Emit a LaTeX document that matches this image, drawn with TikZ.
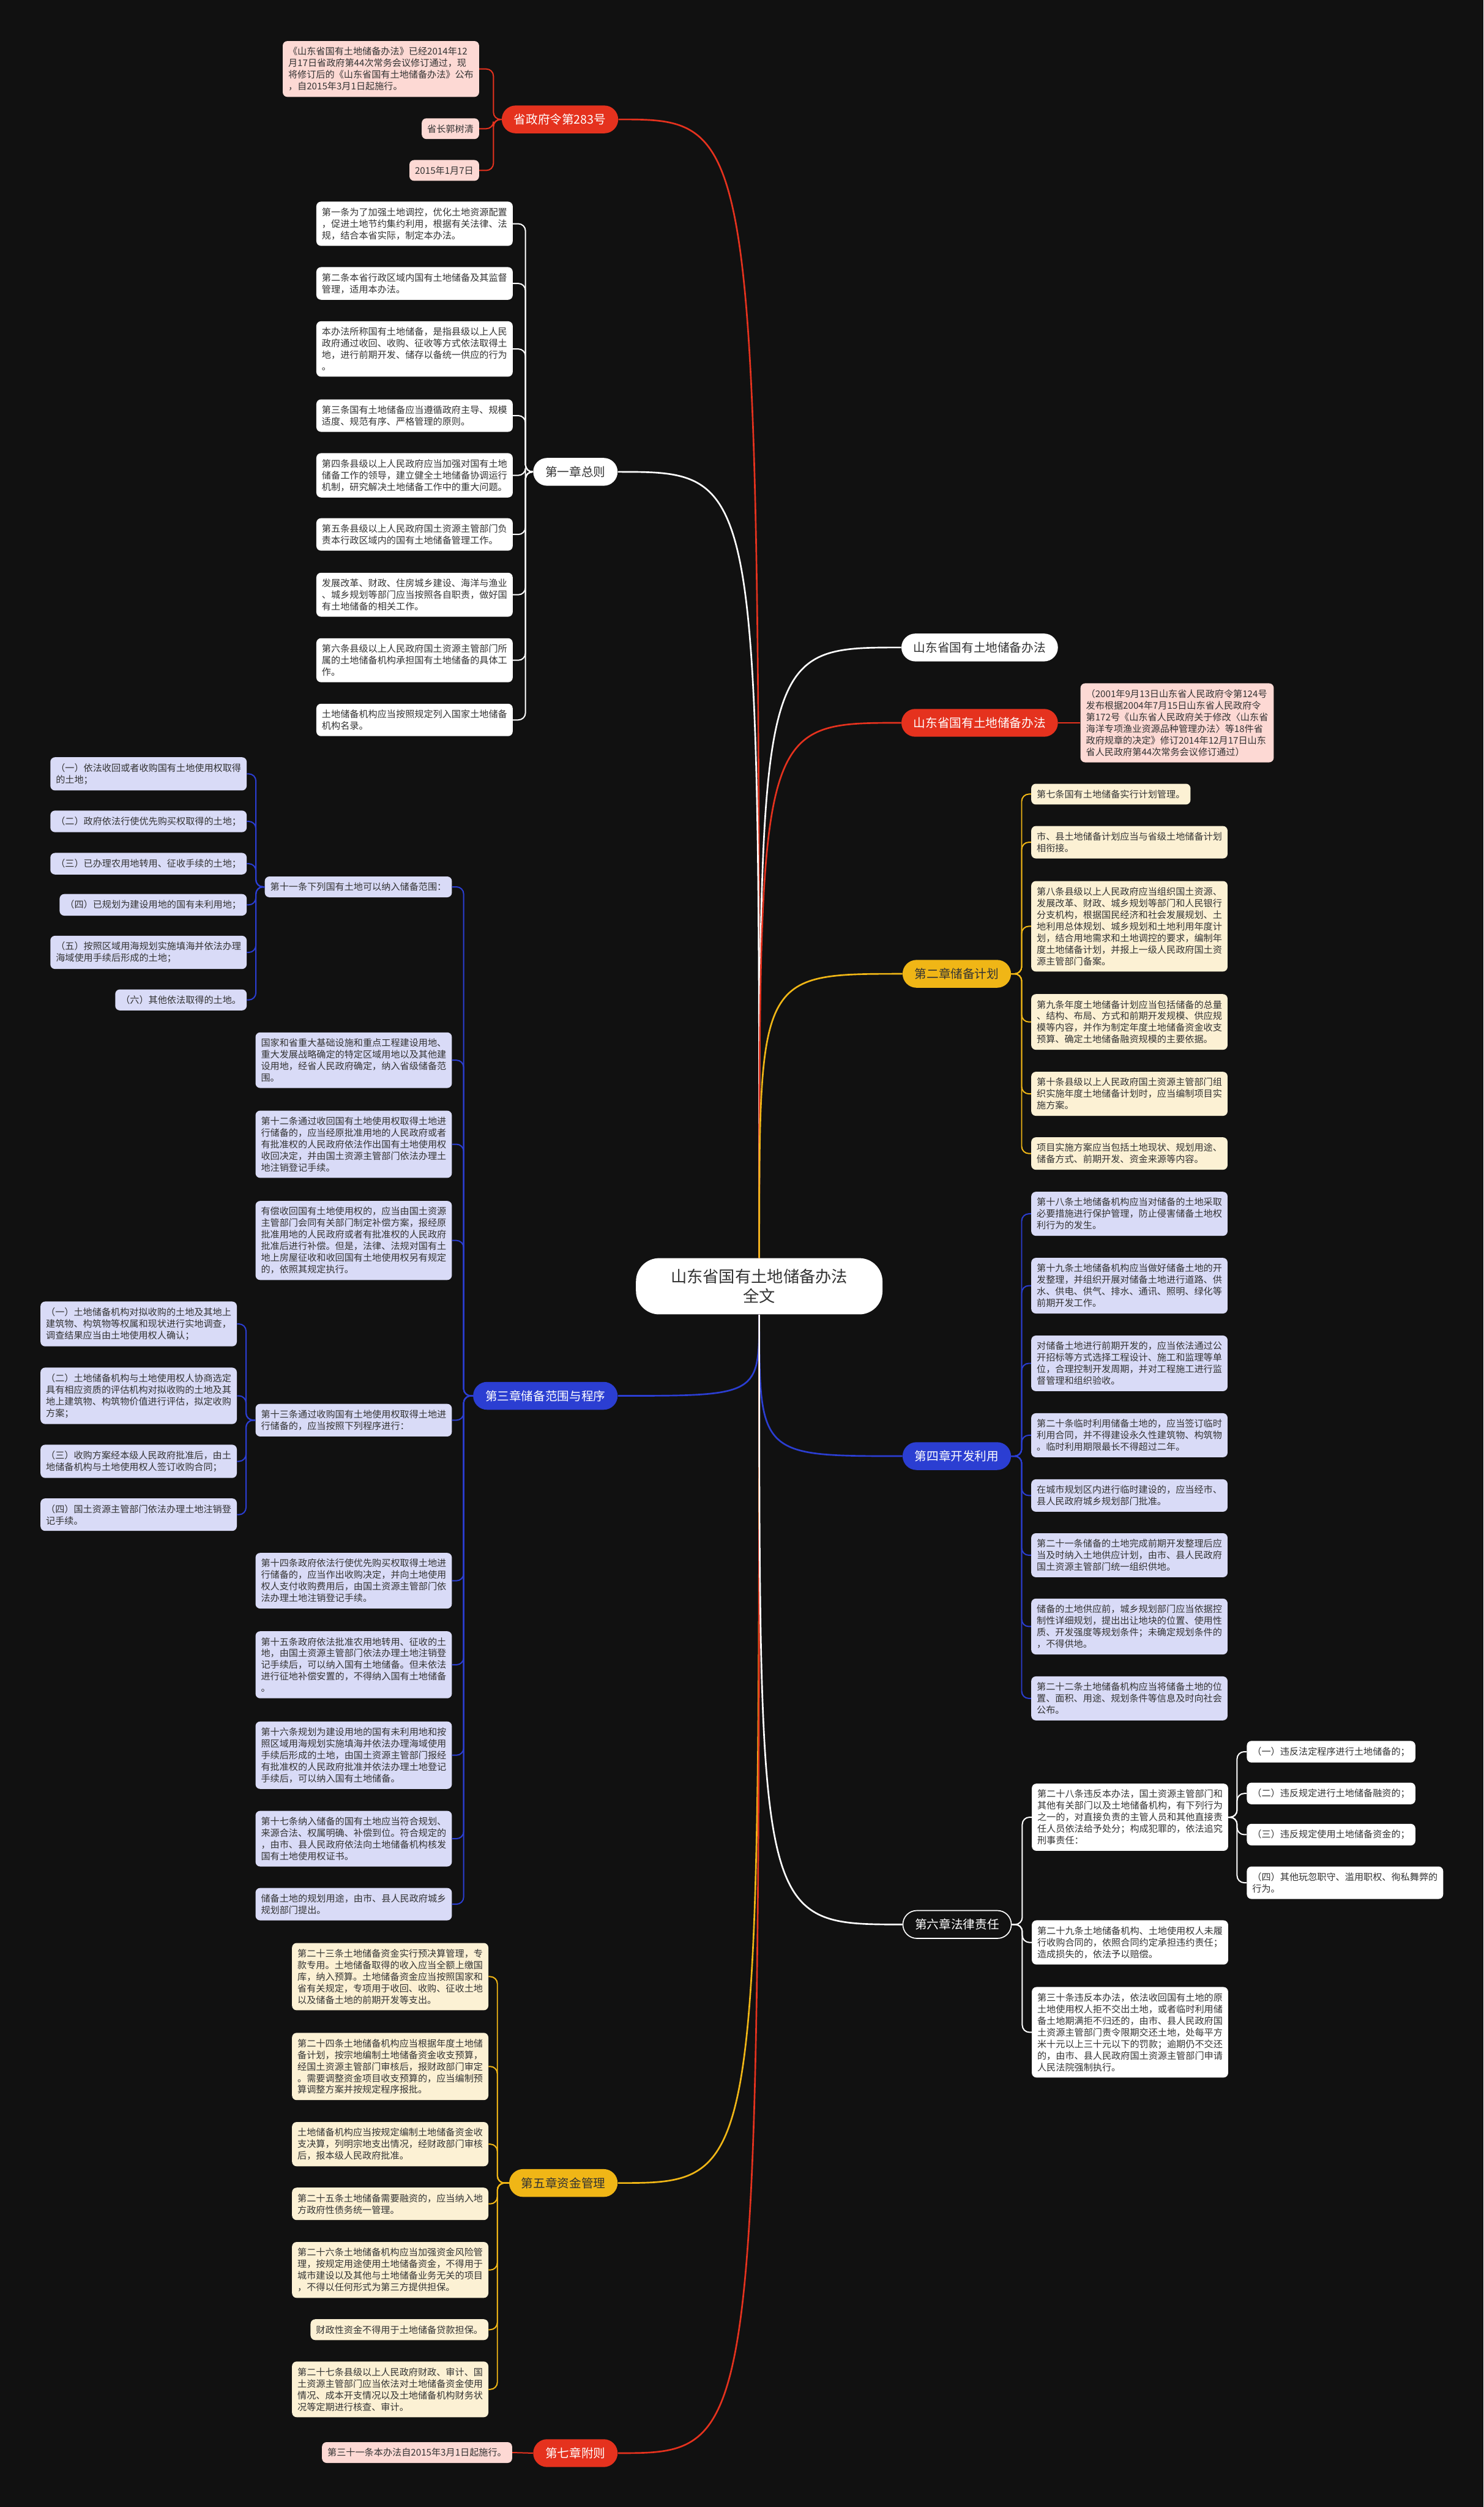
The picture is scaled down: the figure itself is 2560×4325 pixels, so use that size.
\documentclass[tikz,border=0pt]{standalone}
\usepackage{fontspec}
\setmainfont{Noto Sans CJK SC}
\definecolor{bg}{HTML}{111111}
\definecolor{redc}{HTML}{E5321E}
\definecolor{redl}{HTML}{FDD9D4}
\definecolor{bluec}{HTML}{2B3ED2}
\definecolor{bluel}{HTML}{D9DBF7}
\definecolor{yelc}{HTML}{F0B616}
\definecolor{yell}{HTML}{FCF1D4}
\definecolor{txt}{HTML}{333333}
\begin{document}
\begin{tikzpicture}[
  x=0.02cm, y=-0.02cm,
  rootbox/.style={rectangle, rounded corners=0.8cm, fill=white, text=txt, align=center, minimum height=1.94cm, inner xsep=1.2cm, font=\fontsize{15.8}{19}\selectfont},
  pill/.style={rectangle, rounded corners=0.48cm, minimum height=0.96cm, inner xsep=0.42cm, inner ysep=0pt, font=\fontsize{11.8}{14}\selectfont},
  leaf/.style={rectangle, rounded corners=0.16cm, align=left, inner xsep=0.19cm, inner ysep=0.21cm, text=txt, font=\fontsize{9.1}{11.4}\selectfont},
  link/.style={line width=1.6pt},
  twig/.style={line width=1.2pt, rounded corners=7pt}
]
\fill[bg] (0,0) rectangle (2560,4325);
\useasboundingbox (0,0) rectangle (2560,4325);

% centre
\node[rootbox] (root) at (1310,2219) {山东省国有土地储备办法\\全文};

% 省政府令
\node[pill, fill=redc, text=white, anchor=east] (ord) at (1067,206) {省政府令第283号};
\node[leaf, fill=redl, anchor=east] (o1) at (827,119) {《山东省国有土地储备办法》已经2014年12\\月17日省政府第44次常务会议修订通过，现\\将修订后的《山东省国有土地储备办法》公布\\，自2015年3月1日起施行。};
\node[leaf, fill=redl, anchor=east] (o2) at (827,222) {省长郭树清};
\node[leaf, fill=redl, anchor=east] (o3) at (827,294) {2015年1月7日};

% chapter 1
\node[pill, fill=white, text=txt, anchor=east] (ch1) at (1066,814) {第一章总则};
\node[leaf, fill=white, anchor=east] (a1) at (885,386) {第一条为了加强土地调控，优化土地资源配置\\，促进土地节约集约利用，根据有关法律、法\\规，结合本省实际，制定本办法。};
\node[leaf, fill=white, anchor=east] (a2) at (885,489) {第二条本省行政区域内国有土地储备及其监督\\管理，适用本办法。};
\node[leaf, fill=white, anchor=east] (a3) at (885,602) {本办法所称国有土地储备，是指县级以上人民\\政府通过收回、收购、征收等方式依法取得土\\地，进行前期开发、储存以备统一供应的行为\\。};
\node[leaf, fill=white, anchor=east] (a4) at (885,717) {第三条国有土地储备应当遵循政府主导、规模\\适度、规范有序、严格管理的原则。};
\node[leaf, fill=white, anchor=east] (a5) at (885,820) {第四条县级以上人民政府应当加强对国有土地\\储备工作的领导，建立健全土地储备协调运行\\机制，研究解决土地储备工作中的重大问题。};
\node[leaf, fill=white, anchor=east] (a6) at (885,922) {第五条县级以上人民政府国土资源主管部门负\\责本行政区域内的国有土地储备管理工作。};
\node[leaf, fill=white, anchor=east] (a7) at (885,1026) {发展改革、财政、住房城乡建设、海洋与渔业\\、城乡规划等部门应当按照各自职责，做好国\\有土地储备的相关工作。};
\node[leaf, fill=white, anchor=east] (a8) at (885,1139) {第六条县级以上人民政府国土资源主管部门所\\属的土地储备机构承担国有土地储备的具体工\\作。};
\node[leaf, fill=white, anchor=east] (a9) at (885,1242) {土地储备机构应当按照规定列入国家土地储备\\机构名录。};

% chapter 3
\node[pill, fill=bluec, text=white, anchor=east] (ch3) at (1066,2408) {第三章储备范围与程序};
\node[leaf, fill=bluel, anchor=east] (b1) at (780,1530) {第十一条下列国有土地可以纳入储备范围：};
\node[leaf, fill=bluel, anchor=east] (k1) at (426,1335) {（一）依法收回或者收购国有土地使用权取得\\的土地；};
\node[leaf, fill=bluel, anchor=east] (k2) at (426,1417) {（二）政府依法行使优先购买权取得的土地；};
\node[leaf, fill=bluel, anchor=east] (k3) at (426,1490) {（三）已办理农用地转用、征收手续的土地；};
\node[leaf, fill=bluel, anchor=east] (k4) at (426,1561) {（四）已规划为建设用地的国有未利用地；};
\node[leaf, fill=bluel, anchor=east] (k5) at (426,1643) {（五）按照区域用海规划实施填海并依法办理\\海域使用手续后形成的土地；};
\node[leaf, fill=bluel, anchor=east] (k6) at (426,1725) {（六）其他依法取得的土地。};
\node[leaf, fill=bluel, anchor=east] (b2) at (780,1829) {国家和省重大基础设施和重点工程建设用地、\\重大发展战略确定的特定区域用地以及其他建\\设用地，经省人民政府确定，纳入省级储备范\\围。};
\node[leaf, fill=bluel, anchor=east] (b3) at (780,1974) {第十二条通过收回国有土地使用权取得土地进\\行储备的，应当经原批准用地的人民政府或者\\有批准权的人民政府依法作出国有土地使用权\\收回决定，并由国土资源主管部门依法办理土\\地注销登记手续。};
\node[leaf, fill=bluel, anchor=east] (b4) at (780,2140) {有偿收回国有土地使用权的，应当由国土资源\\主管部门会同有关部门制定补偿方案，报经原\\批准用地的人民政府或者有批准权的人民政府\\批准后进行补偿。但是，法律、法规对国有土\\地上房屋征收和收回国有土地使用权另有规定\\的，依照其规定执行。};
\node[leaf, fill=bluel, anchor=east] (b5) at (780,2450) {第十三条通过收购国有土地使用权取得土地进\\行储备的，应当按照下列程序进行：};
\node[leaf, fill=bluel, anchor=east] (m1) at (409,2284) {（一）土地储备机构对拟收购的土地及其地上\\建筑物、构筑物等权属和现状进行实地调查，\\调查结果应当由土地使用权人确认；};
\node[leaf, fill=bluel, anchor=east] (m2) at (409,2408) {（二）土地储备机构与土地使用权人协商选定\\具有相应资质的评估机构对拟收购的土地及其\\地上建筑物、构筑物价值进行评估，拟定收购\\方案；};
\node[leaf, fill=bluel, anchor=east] (m3) at (409,2521) {（三）收购方案经本级人民政府批准后，由土\\地储备机构与土地使用权人签订收购合同；};
\node[leaf, fill=bluel, anchor=east] (m4) at (409,2613) {（四）国土资源主管部门依法办理土地注销登\\记手续。};
\node[leaf, fill=bluel, anchor=east] (b6) at (780,2727) {第十四条政府依法行使优先购买权取得土地进\\行储备的，应当作出收购决定，并向土地使用\\权人支付收购费用后，由国土资源主管部门依\\法办理土地注销登记手续。};
\node[leaf, fill=bluel, anchor=east] (b7) at (780,2872) {第十五条政府依法批准农用地转用、征收的土\\地，由国土资源主管部门依法办理土地注销登\\记手续后，可以纳入国有土地储备。但未依法\\进行征地补偿安置的，不得纳入国有土地储备\\。};
\node[leaf, fill=bluel, anchor=east] (b8) at (780,3028) {第十六条规划为建设用地的国有未利用地和按\\照区域用海规划实施填海并依法办理海域使用\\手续后形成的土地，由国土资源主管部门报经\\有批准权的人民政府批准并依法办理土地登记\\手续后，可以纳入国有土地储备。};
\node[leaf, fill=bluel, anchor=east] (b9) at (780,3172) {第十七条纳入储备的国有土地应当符合规划、\\来源合法、权属明确、补偿到位。符合规定的\\，由市、县人民政府依法向土地储备机构核发\\国有土地使用权证书。};
\node[leaf, fill=bluel, anchor=east] (b10) at (780,3285) {储备土地的规划用途，由市、县人民政府城乡\\规划部门提出。};

% chapter 5
\node[pill, fill=yelc, text=txt, anchor=east] (ch5) at (1066,3766) {第五章资金管理};
\node[leaf, fill=yell, anchor=east] (e1) at (843,3410) {第二十三条土地储备资金实行预决算管理，专\\款专用。土地储备取得的收入应当全额上缴国\\库，纳入预算。土地储备资金应当按照国家和\\省有关规定，专项用于收回、收购、征收土地\\以及储备土地的前期开发等支出。};
\node[leaf, fill=yell, anchor=east] (e2) at (843,3565) {第二十四条土地储备机构应当根据年度土地储\\备计划，按宗地编制土地储备资金收支预算，\\经国土资源主管部门审核后，报财政部门审定\\。需要调整资金项目收支预算的，应当编制预\\算调整方案并按规定程序报批。};
\node[leaf, fill=yell, anchor=east] (e3) at (843,3699) {土地储备机构应当按规定编制土地储备资金收\\支决算，列明宗地支出情况，经财政部门审核\\后，报本级人民政府批准。};
\node[leaf, fill=yell, anchor=east] (e4) at (843,3802) {第二十五条土地储备需要融资的，应当纳入地\\方政府性债务统一管理。};
\node[leaf, fill=yell, anchor=east] (e5) at (843,3916) {第二十六条土地储备机构应当加强资金风险管\\理，按规定用途使用土地储备资金，不得用于\\城市建设以及其他与土地储备业务无关的项目\\，不得以任何形式为第三方提供担保。};
\node[leaf, fill=yell, anchor=east] (e6) at (843,4019) {财政性资金不得用于土地储备贷款担保。};
\node[leaf, fill=yell, anchor=east] (e7) at (843,4122) {第二十七条县级以上人民政府财政、审计、国\\土资源主管部门应当依法对土地储备资金使用\\情况、成本开支情况以及土地储备机构财务状\\况等定期进行核查、审计。};

% chapter 7
\node[pill, fill=redc, text=white, anchor=east] (ch7) at (1066,4232) {第七章附则};
\node[leaf, fill=redl, anchor=east] (g1) at (884,4231) {第三十一条本办法自2015年3月1日起施行。};

% title and law
\node[pill, fill=white, text=txt, anchor=west] (title) at (1555,1117) {山东省国有土地储备办法};
\node[pill, fill=redc, text=white, anchor=west] (law) at (1555,1247) {山东省国有土地储备办法};
\node[leaf, fill=redl, anchor=west] (l1) at (1864,1247) {（2001年9月13日山东省人民政府令第124号\\发布根据2004年7月15日山东省人民政府令\\第172号《山东省人民政府关于修改〈山东省\\海洋专项渔业资源品种管理办法〉等18件省\\政府规章的决定》修订2014年12月17日山东\\省人民政府第44次常务会议修订通过）};

% chapter 2
\node[pill, fill=yelc, text=txt, anchor=west] (ch2) at (1557,1680) {第二章储备计划};
\node[leaf, fill=yell, anchor=west] (d1) at (1779,1370) {第七条国有土地储备实行计划管理。};
\node[leaf, fill=yell, anchor=west] (d2) at (1779,1453) {市、县土地储备计划应当与省级土地储备计划\\相衔接。};
\node[leaf, fill=yell, anchor=west] (d3) at (1779,1598) {第八条县级以上人民政府应当组织国土资源、\\发展改革、财政、城乡规划等部门和人民银行\\分支机构，根据国民经济和社会发展规划、土\\地利用总体规划、城乡规划和土地利用年度计\\划，结合用地需求和土地调控的要求，编制年\\度土地储备计划，并报上一级人民政府国土资\\源主管部门备案。};
\node[leaf, fill=yell, anchor=west] (d4) at (1779,1763) {第九条年度土地储备计划应当包括储备的总量\\、结构、布局、方式和前期开发规模、供应规\\模等内容，并作为制定年度土地储备资金收支\\预算、确定土地储备融资规模的主要依据。};
\node[leaf, fill=yell, anchor=west] (d5) at (1779,1887) {第十条县级以上人民政府国土资源主管部门组\\织实施年度土地储备计划时，应当编制项目实\\施方案。};
\node[leaf, fill=yell, anchor=west] (d6) at (1779,1990) {项目实施方案应当包括土地现状、规划用途、\\储备方式、前期开发、资金来源等内容。};

% chapter 4
\node[pill, fill=bluec, text=white, anchor=west] (ch4) at (1557,2512) {第四章开发利用};
\node[leaf, fill=bluel, anchor=west] (f1) at (1779,2094) {第十八条土地储备机构应当对储备的土地采取\\必要措施进行保护管理，防止侵害储备土地权\\利行为的发生。};
\node[leaf, fill=bluel, anchor=west] (f2) at (1779,2218) {第十九条土地储备机构应当做好储备土地的开\\发整理，并组织开展对储备土地进行道路、供\\水、供电、供气、排水、通讯、照明、绿化等\\前期开发工作。};
\node[leaf, fill=bluel, anchor=west] (f3) at (1779,2352) {对储备土地进行前期开发的，应当依法通过公\\开招标等方式选择工程设计、施工和监理等单\\位，合理控制开发周期，并对工程施工进行监\\督管理和组织验收。};
\node[leaf, fill=bluel, anchor=west] (f4) at (1779,2476) {第二十条临时利用储备土地的，应当签订临时\\利用合同，并不得建设永久性建筑物、构筑物\\。临时利用期限最长不得超过二年。};
\node[leaf, fill=bluel, anchor=west] (f5) at (1779,2580) {在城市规划区内进行临时建设的，应当经市、\\县人民政府城乡规划部门批准。};
\node[leaf, fill=bluel, anchor=west] (f6) at (1779,2683) {第二十一条储备的土地完成前期开发整理后应\\当及时纳入土地供应计划，由市、县人民政府\\国土资源主管部门统一组织供地。};
\node[leaf, fill=bluel, anchor=west] (f7) at (1779,2806) {储备的土地供应前，城乡规划部门应当依据控\\制性详细规划，提出出让地块的位置、使用性\\质、开发强度等规划条件；未确定规划条件的\\，不得供地。};
\node[leaf, fill=bluel, anchor=west] (f8) at (1779,2930) {第二十二条土地储备机构应当将储备土地的位\\置、面积、用途、规划条件等信息及时向社会\\公布。};

% chapter 6
\node[pill, fill=bg, draw=white, line width=1pt, text=white, anchor=west] (ch6) at (1557,3320) {第六章法律责任};
\node[leaf, fill=white, anchor=west] (h1) at (1780,3135) {第二十八条违反本办法，国土资源主管部门和\\其他有关部门以及土地储备机构，有下列行为\\之一的，对直接负责的主管人员和其他直接责\\任人员依法给予处分；构成犯罪的，依法追究\\刑事责任：};
\node[leaf, fill=white, anchor=west] (p1) at (2151,3022) {（一）违反法定程序进行土地储备的；};
\node[leaf, fill=white, anchor=west] (p2) at (2151,3094) {（二）违反规定进行土地储备融资的；};
\node[leaf, fill=white, anchor=west] (p3) at (2151,3165) {（三）违反规定使用土地储备资金的；};
\node[leaf, fill=white, anchor=west] (p4) at (2151,3248) {（四）其他玩忽职守、滥用职权、徇私舞弊的\\行为。};
\node[leaf, fill=white, anchor=west] (h2) at (1780,3351) {第二十九条土地储备机构、土地使用权人未履\\行收购合同的，依照合同约定承担违约责任；\\造成损失的，依法予以赔偿。};
\node[leaf, fill=white, anchor=west] (h3) at (1780,3506) {第三十条违反本办法，依法收回国有土地的原\\土地使用权人拒不交出土地，或者临时利用储\\备土地期满拒不归还的，由市、县人民政府国\\土资源主管部门责令限期交还土地，处每平方\\米十元以上三十元以下的罚款；逾期仍不交还\\的，由市、县人民政府国土资源主管部门申请\\人民法院强制执行。};

% main branches
\draw[link, redc] (root.north) .. controls (root.north |- ord.east) .. (ord.east);
\draw[link, white] (root.north) .. controls (root.north |- ch1.east) .. (ch1.east);
\draw[link, bluec] (root.south) .. controls (root.south |- ch3.east) .. (ch3.east);
\draw[link, yelc] (root.south) .. controls (root.south |- ch5.east) .. (ch5.east);
\draw[link, redc] (root.south) .. controls (root.south |- ch7.east) .. (ch7.east);
\draw[link, white] (root.north) .. controls (root.north |- title.west) .. (title.west);
\draw[link, redc] (root.north) .. controls (root.north |- law.west) .. (law.west);
\draw[link, yelc] (root.north) .. controls (root.north |- ch2.west) .. (ch2.west);
\draw[link, bluec] (root.south) .. controls (root.south |- ch4.west) .. (ch4.west);
\draw[link, white] (root.south) .. controls (root.south |- ch6.west) .. (ch6.west);

% leaf links
\draw[twig, redc] (ord.west) -- ++(-14,0) |- (o1.east);
\draw[twig, redc] (ord.west) -- ++(-14,0) |- (o2.east);
\draw[twig, redc] (ord.west) -- ++(-14,0) |- (o3.east);

\draw[twig, white] (ch1.west) -- ++(-13,0) |- (a1.east);
\draw[twig, white] (ch1.west) -- ++(-13,0) |- (a2.east);
\draw[twig, white] (ch1.west) -- ++(-13,0) |- (a3.east);
\draw[twig, white] (ch1.west) -- ++(-13,0) |- (a4.east);
\draw[twig, white] (ch1.west) -- ++(-13,0) |- (a5.east);
\draw[twig, white] (ch1.west) -- ++(-13,0) |- (a6.east);
\draw[twig, white] (ch1.west) -- ++(-13,0) |- (a7.east);
\draw[twig, white] (ch1.west) -- ++(-13,0) |- (a8.east);
\draw[twig, white] (ch1.west) -- ++(-13,0) |- (a9.east);

\draw[twig, bluec] (ch3.west) -- ++(-16,0) |- (b1.east);
\draw[twig, bluec] (ch3.west) -- ++(-16,0) |- (b2.east);
\draw[twig, bluec] (ch3.west) -- ++(-16,0) |- (b3.east);
\draw[twig, bluec] (ch3.west) -- ++(-16,0) |- (b4.east);
\draw[twig, bluec] (ch3.west) -- ++(-16,0) |- (b5.east);
\draw[twig, bluec] (ch3.west) -- ++(-16,0) |- (b6.east);
\draw[twig, bluec] (ch3.west) -- ++(-16,0) |- (b7.east);
\draw[twig, bluec] (ch3.west) -- ++(-16,0) |- (b8.east);
\draw[twig, bluec] (ch3.west) -- ++(-16,0) |- (b9.east);
\draw[twig, bluec] (ch3.west) -- ++(-16,0) |- (b10.east);
\draw[twig, bluec] (b1.west) -- ++(-15,0) |- (k1.east);
\draw[twig, bluec] (b1.west) -- ++(-15,0) |- (k2.east);
\draw[twig, bluec] (b1.west) -- ++(-15,0) |- (k3.east);
\draw[twig, bluec] (b1.west) -- ++(-15,0) |- (k4.east);
\draw[twig, bluec] (b1.west) -- ++(-15,0) |- (k5.east);
\draw[twig, bluec] (b1.west) -- ++(-15,0) |- (k6.east);
\draw[twig, bluec] (b5.west) -- ++(-16,0) |- (m1.east);
\draw[twig, bluec] (b5.west) -- ++(-16,0) |- (m2.east);
\draw[twig, bluec] (b5.west) -- ++(-16,0) |- (m3.east);
\draw[twig, bluec] (b5.west) -- ++(-16,0) |- (m4.east);

\draw[twig, yelc] (ch5.west) -- ++(-20,0) |- (e1.east);
\draw[twig, yelc] (ch5.west) -- ++(-20,0) |- (e2.east);
\draw[twig, yelc] (ch5.west) -- ++(-20,0) |- (e3.east);
\draw[twig, yelc] (ch5.west) -- ++(-20,0) |- (e4.east);
\draw[twig, yelc] (ch5.west) -- ++(-20,0) |- (e5.east);
\draw[twig, yelc] (ch5.west) -- ++(-20,0) |- (e6.east);
\draw[twig, yelc] (ch5.west) -- ++(-20,0) |- (e7.east);

\draw[twig, redc] (ch7.west) -- (g1.east);
\draw[twig, redc] (law.east) -- (l1.west);

\draw[twig, yelc] (ch2.east) -- ++(18,0) |- (d1.west);
\draw[twig, yelc] (ch2.east) -- ++(18,0) |- (d2.west);
\draw[twig, yelc] (ch2.east) -- ++(18,0) |- (d3.west);
\draw[twig, yelc] (ch2.east) -- ++(18,0) |- (d4.west);
\draw[twig, yelc] (ch2.east) -- ++(18,0) |- (d5.west);
\draw[twig, yelc] (ch2.east) -- ++(18,0) |- (d6.west);

\draw[twig, bluec] (ch4.east) -- ++(18,0) |- (f1.west);
\draw[twig, bluec] (ch4.east) -- ++(18,0) |- (f2.west);
\draw[twig, bluec] (ch4.east) -- ++(18,0) |- (f3.west);
\draw[twig, bluec] (ch4.east) -- ++(18,0) |- (f4.west);
\draw[twig, bluec] (ch4.east) -- ++(18,0) |- (f5.west);
\draw[twig, bluec] (ch4.east) -- ++(18,0) |- (f6.west);
\draw[twig, bluec] (ch4.east) -- ++(18,0) |- (f7.west);
\draw[twig, bluec] (ch4.east) -- ++(18,0) |- (f8.west);

\draw[twig, white] (ch6.east) -- ++(18,0) |- (h1.west);
\draw[twig, white] (ch6.east) -- ++(18,0) |- (h2.west);
\draw[twig, white] (ch6.east) -- ++(18,0) |- (h3.west);
\draw[twig, white] (h1.east) -- ++(15,0) |- (p1.west);
\draw[twig, white] (h1.east) -- ++(15,0) |- (p2.west);
\draw[twig, white] (h1.east) -- ++(15,0) |- (p3.west);
\draw[twig, white] (h1.east) -- ++(15,0) |- (p4.west);

\end{tikzpicture}
\end{document}
